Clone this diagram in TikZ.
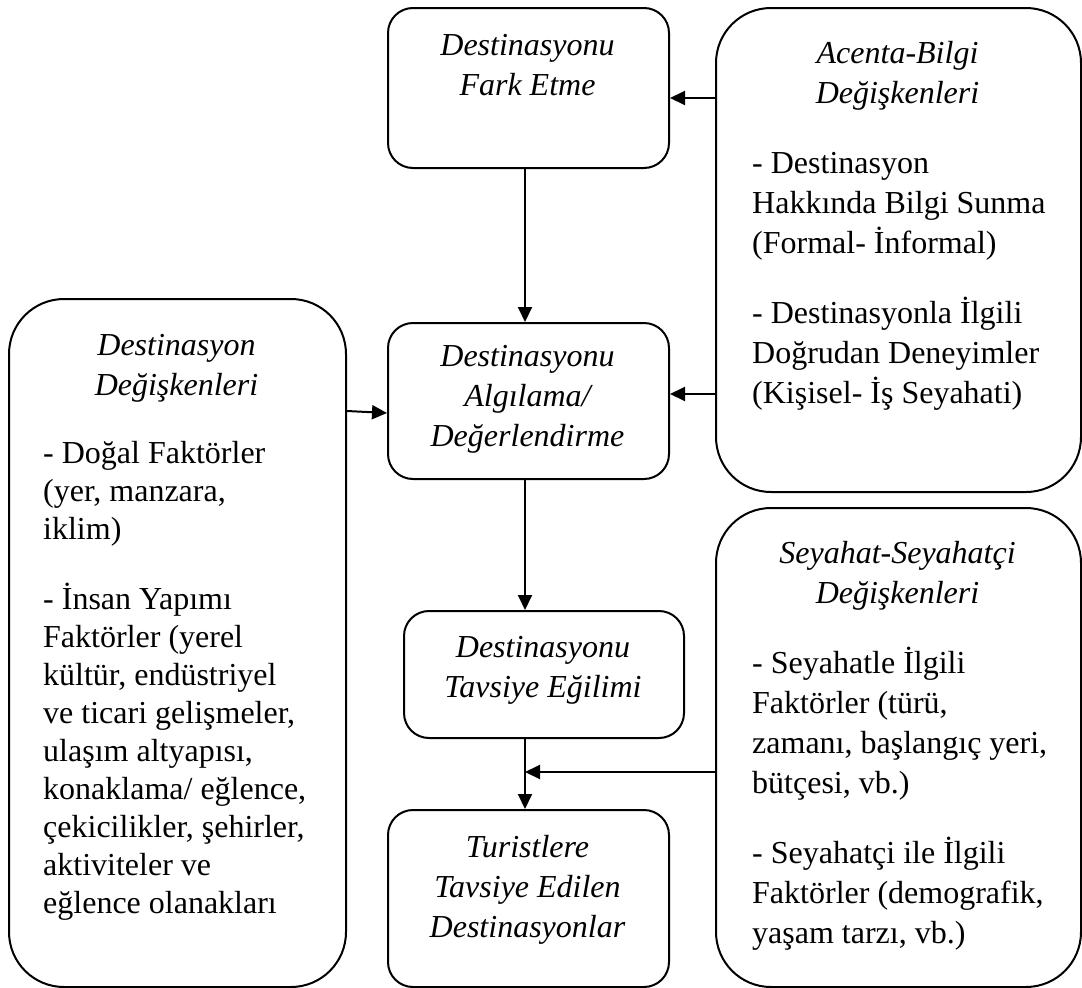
\documentclass[tikz,border=0pt]{standalone}
\usepackage{fontspec}
\setmainfont{Liberation Serif}
\usetikzlibrary{arrows.meta}
\begin{document}
\begin{tikzpicture}[x=1pt,y=-1pt,
  box/.style={draw, line width=2pt, inner sep=0pt, anchor=north west},
  cbox/.style={box, rounded corners=25pt},
  sbox/.style={box, rounded corners=55pt},
  head/.style={inner sep=0pt, align=center, anchor=north, font=\fontsize{32}{40}\selectfont\itshape},
  body/.style={inner sep=0pt, align=left, anchor=north west, font=\fontsize{32}{40}\selectfont},
  arr/.style={line width=2pt, -{Triangle[length=15pt,width=14pt]}}]
\useasboundingbox (0,0) rectangle (1082,988);

% central chain of boxes
\node[cbox, minimum width=281pt, minimum height=160pt] (fark) at (387,7) {};
\node[cbox, minimum width=281pt, minimum height=156pt] (alg) at (387,322) {};
\node[cbox, minimum width=280pt, minimum height=127pt] (tav) at (403,610) {};
\node[cbox, minimum width=281pt, minimum height=177pt] (tur) at (387,809) {};

% variable boxes at the sides
\node[sbox, minimum width=337pt, minimum height=688pt] (dest) at (8,298) {};
\node[sbox, minimum width=365pt, minimum height=484pt] (acenta) at (715,7) {};
\node[sbox, minimum width=365pt, minimum height=479pt] (seyahat) at (715,507) {};

% texts of the central boxes
\node[head] (fark-t) at (527.5,27) {\strut Destinasyonu\\Fark Etme};
\node[head] (alg-t) at (527.5,338) {\strut Destinasyonu\\Algılama/\\Değerlendirme};
\node[head] (tav-t) at (543,629) {\strut Destinasyonu\\Tavsiye Eğilimi};
\node[head] (tur-t) at (527.5,829) {\strut Turistlere\\Tavsiye Edilen\\Destinasyonlar};

% texts of the side boxes
\node[head] (acenta-h) at (897.5,35) {\strut Acenta-Bilgi\\Değişkenleri};
\node[body] (acenta-b) at (752,145) {\strut - Destinasyon\\Hakkında Bilgi Sunma\\(Formal- İnformal)\\[30pt]- Destinasyonla İlgili\\Doğrudan Deneyimler\\(Kişisel- İş Seyahati)};

\node[head] (dest-h) at (176.5,327) {\strut Destinasyon\\Değişkenleri};
\node[body, font=\fontsize{32}{38}\selectfont] (dest-b) at (43,437) {\strut - Doğal Faktörler\\(yer, manzara,\\iklim)\\[32pt]- İnsan Yapımı\\Faktörler (yerel\\kültür, endüstriyel\\ve ticari gelişmeler,\\ulaşım altyapısı,\\konaklama/ eğlence,\\çekicilikler, şehirler,\\aktiviteler ve\\eğlence olanakları};

\node[head] (sey-h) at (897.5,535) {\strut Seyahat-Seyahatçi\\Değişkenleri};
\node[body] (sey-b) at (752,645) {\strut - Seyahatle İlgili\\Faktörler (türü,\\zamanı, başlangıç yeri,\\bütçesi, vb.)\\[30pt]- Seyahatçi ile İlgili\\Faktörler (demografik,\\yaşam tarzı, vb.)};

% connectors
\coordinate (join) at (525,772);
\draw[arr] (acenta.west |- 0,98) -- (fark.east |- 0,98);
\draw[arr] (fark.south -| join) -- (alg.north -| join);
\draw[arr] (acenta.west |- 0,394) -- (alg.east |- 0,394);
\draw[arr] (dest.east |- 0,411) -- (alg.west |- 0,413);
\draw[arr] (alg.south -| join) -- (tav.north -| join);
\draw[arr] (tav.south -| join) -- (tur.north -| join);
\draw[arr] (seyahat.west |- join) -- (join);
\end{tikzpicture}
\end{document}
